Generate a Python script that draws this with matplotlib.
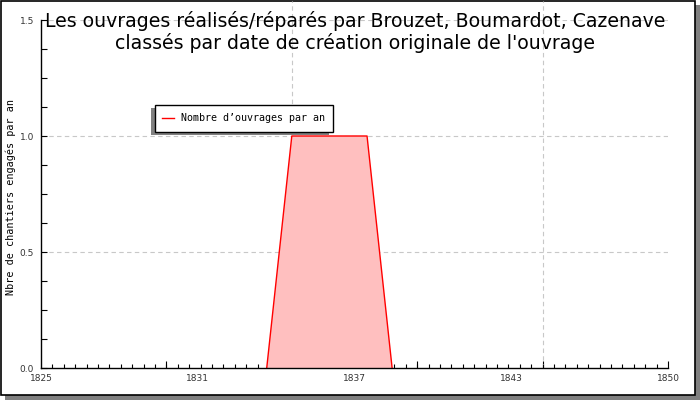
import matplotlib
matplotlib.use("Agg")
import matplotlib.pyplot as plt
import matplotlib.patches as mpatches
import numpy as np

# Data
years = [1834, 1835, 1836, 1837, 1838, 1839]
counts = [0, 1, 1, 1, 1, 0]
x_tick_pos = [1825, 1831.25, 1837.5, 1843.75, 1850]
x_tick_labels = ["1825", "1831", "1837", "1843", "1850"]
y_ticks = [0.0, 0.5, 1.0, 1.5]
y_tick_labels = ["0.0", "0.5", "1.0", "1.5"]
title = "Les ouvrages réalisés/réparés par Brouzet, Boumardot, Cazenave\nclassés par date de création originale de l'ouvrage"
ylabel = "Nbre de chantiers engagés par an"
legend_label = "Nombre d’ouvrages par an"

W, H = 700, 400
fig = plt.figure(figsize=(7, 4), dpi=100)
fig.patch.set_facecolor("white")

def fx(px):
    return px / W

def fy(py):
    return 1 - py / H

# figure border and shadow
fig.patches.append(mpatches.Rectangle((fx(695), fy(400)), fx(5), 1 - 5 / H, transform=fig.transFigure,
                                      facecolor="#808080", edgecolor="none", zorder=-3))
fig.patches.append(mpatches.Rectangle((fx(5), fy(400)), fx(695), 5 / H, transform=fig.transFigure,
                                      facecolor="#808080", edgecolor="none", zorder=-3))
fig.patches.append(mpatches.Rectangle((fx(0.5), fy(394.5)), fx(694), 394 / H, transform=fig.transFigure,
                                      facecolor="white", edgecolor="black", linewidth=1.2, zorder=-2))

ax = fig.add_axes([fx(41), fy(368), fx(668 - 41), (368 - 20) / H])
ax.set_zorder(1)
ax.set_facecolor("none")
ax.set_xlim(1825, 1850)
ax.set_ylim(0, 1.5)

ax.fill_between(years, counts, 0, facecolor="#ffbfbf", edgecolor="none", zorder=2)
ax.plot(years, counts, color="red", linewidth=1, zorder=3)

# grid (vertical grid lines run up to the top edge of the image, as in the reference)
for gx in [1835, 1845]:
    ax.plot([gx, gx], [0, 1.58], color="#c8c8c8", linestyle=(0, (4, 3)), linewidth=0.8,
            zorder=1, clip_on=False)
for gy in [0.5, 1.0, 1.5]:
    ax.axhline(gy, color="#c8c8c8", linestyle=(0, (4, 3)), linewidth=0.8, zorder=1)

for s in ["top", "right"]:
    ax.spines[s].set_visible(False)
for s in ["left", "bottom"]:
    ax.spines[s].set_linewidth(1.0)
    ax.spines[s].set_zorder(4)

ax.set_xticks(x_tick_pos)
ax.set_xticklabels(x_tick_labels)
ax.set_xticks(np.arange(1825, 1850.01, 5 / 11), minor=True)
ax.tick_params(axis="x", which="major", length=0, pad=4, labelsize=6.5, labelcolor="#333333")
ax.tick_params(axis="x", which="minor", direction="in", length=3, width=0.8)

ax.set_yticks(y_ticks)
ax.set_yticklabels(y_tick_labels)
ax.set_yticks(np.arange(0, 1.51, 0.125), minor=True)
ax.tick_params(axis="y", which="major", direction="in", length=4, width=0.8, pad=5,
               labelsize=6.5, labelcolor="#333333")
ax.tick_params(axis="y", which="minor", direction="in", length=4, width=0.8)

sec = ax.secondary_xaxis("bottom")
sec.set_xticks([1830, 1835, 1840, 1845, 1850])
sec.set_xticklabels([])
sec.tick_params(direction="in", length=5, width=0.8)
sec.spines["bottom"].set_visible(False)

fig.text(fx(11), fy(197), ylabel, rotation=90, ha="center", va="center",
         family="DejaVu Sans Mono", fontsize=7.3, color="black")

fig.text(fx(355), fy(32), title, ha="center", va="center", fontsize=13.6,
         family="DejaVu Sans", color="black", linespacing=1.1, zorder=5,
         bbox=None)

# legend with shadow
fig.patches.append(mpatches.Rectangle((fx(151), fy(135)), fx(178), 27 / H, transform=fig.transFigure,
                                      facecolor="#808080", edgecolor="none", zorder=6))
fig.patches.append(mpatches.Rectangle((fx(154.5), fy(131.5)), fx(178), 27 / H, transform=fig.transFigure,
                                      facecolor="white", edgecolor="black", linewidth=1, zorder=7))
fig.lines.append(plt.Line2D([fx(162), fx(174)], [fy(118), fy(118)], transform=fig.transFigure,
                            color="red", linewidth=1, zorder=8))
fig.text(fx(181), fy(118), legend_label, ha="left", va="center", family="DejaVu Sans Mono",
         fontsize=7.2, color="black", zorder=8)

fig.savefig("out.png", dpi=100)
